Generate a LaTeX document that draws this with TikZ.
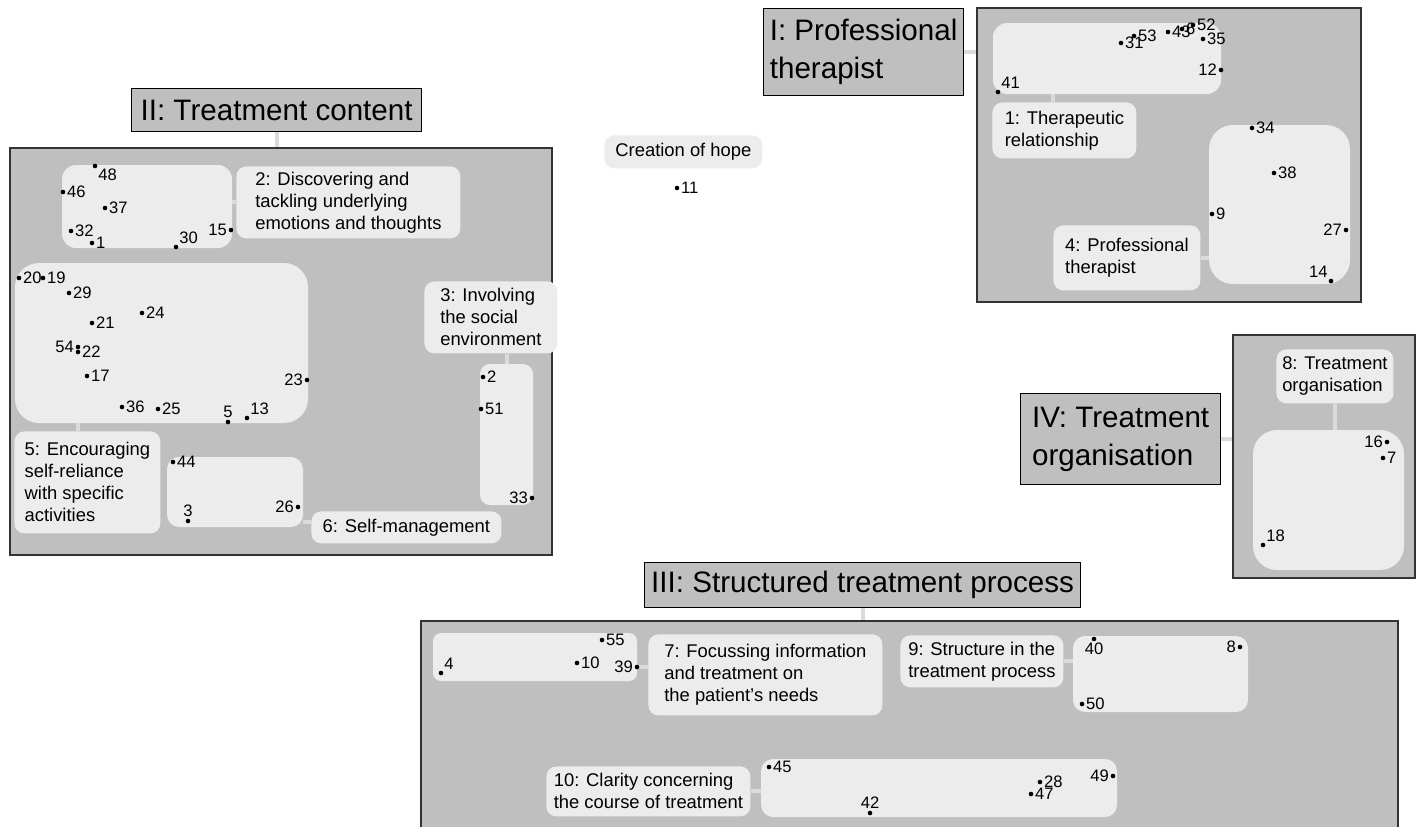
\documentclass[tikz,border=0pt]{standalone}
\usepackage{fontspec}
\setmainfont{Liberation Sans}
\usetikzlibrary{fit}
\definecolor{themegray}{gray}{0.75}
\definecolor{codegray}{gray}{0.925}
\definecolor{linkgray}{gray}{0.86}
\definecolor{edgegray}{gray}{0.2}

\begin{document}
\begin{tikzpicture}[x=0.5pt,y=-0.5pt,
    theme/.style={fill=themegray,draw=edgegray,line width=0.8pt,inner sep=0pt},
    title/.style={fill=themegray,draw=black,line width=0.6pt,anchor=north west,
      align=left,inner sep=0pt,font=\fontsize{14.8}{19}\selectfont},
    cluster/.style={fill=codegray,rounded corners=7pt,inner sep=0pt},
    code/.style={fill=codegray,rounded corners=5pt,anchor=north west,align=left,
      inner sep=0pt,font=\fontsize{9.2}{11}\selectfont},
    link/.style={draw=linkgray,line width=2pt},
    dot/.style={circle,fill=black,inner sep=0pt,minimum size=2.3pt},
    num/.style={font=\fontsize{8.3}{10}\selectfont,inner sep=0.5pt}]

    \useasboundingbox (0,0) rectangle (1417,826);
    \clip (0,0) rectangle (1417,826);
    \fill[white] (0,0) rectangle (1417,826);

    % II: Treatment content
    \begin{scope}
    \node[theme, fit={(10,148) (552,555)}] (m2) {};
    \node[title, minimum width=145pt, minimum height=21.5pt] (t2) at (131,88) {II: Treatment content};
    \draw[link] (t2.south) -- (t2.south |- m2.north);

    \node[cluster, fit={(62,165) (232,248)}] (c2) {};
    \node[cluster, rounded corners=12pt, fit={(15,263) (308,423)}] (c5) {};
    \node[cluster, rounded corners=6pt, fit={(167,457) (303,527)}] (c6) {};
    \node[cluster, rounded corners=5pt, fit={(480,364) (533,505)}] (c3) {};

    \node[code, minimum width=112pt, minimum height=36pt] (l2) at (236,166)
      {2: Discovering and\\tackling underlying\\emotions and thoughts};
    \node[code, minimum width=73pt, minimum height=51pt] (l5) at (14,431)
      {5: Encouraging\\self-reliance\\with specific\\activities};
    \node[code, minimum width=95pt, minimum height=16pt] (l6) at (311,511) {6: Self-management};
    \node[code, minimum width=66.5pt, minimum height=36pt] (l3) at (424,281)
      {3: Involving\\the social\\environment};

    \draw[link] (l2.west) -- (l2.west -| c2.east);
    \coordinate (k5) at (78,0);
    \draw[link] (c5.south -| k5) -- (l5.north -| k5);
    \coordinate (k6) at (0,522);
    \draw[link] (c6.east |- k6) -- (l6.west |- k6);
    \draw[link] (c3.north) -- (c3.north |- l3.south);

    \foreach \n/\x/\y/\p in {48/95/166/below right, 46/63/192/right, 37/105/208/right,
        32/71/231/right, 1/92/243/right, 30/176/247/above right, 15/231/230/left,
        20/19/278/right, 19/43/278/right, 29/69/293/right, 24/142/313/right,
        21/92/323/right, 54/78/347/left, 22/78/352/right, 17/87/376/right,
        23/307/380/left, 36/122/407/right, 25/158/409/right, 5/228/422/above,
        13/247/418/above right, 44/173/462/right, 3/188/521/above, 26/298/507/left,
        2/483/377/right, 51/481/409/right, 33/532/498/left}
      \node[dot, label={[num]\p:\n}] (p\n) at (\x,\y) {};
    \end{scope}

    % Creation of hope
    \node[code, minimum width=79pt, minimum height=16.5pt, align=center] (lh) at (604,135) {Creation of hope};
    \node[dot, label={[num]right:11}] (p11) at (677,188) {};

    % I: Professional therapist
    \begin{scope}
    \node[theme, fit={(977,8) (1361,302)}] (m1) {};
    \node[title, minimum width=100pt, minimum height=43.5pt] (t1) at (763,8) {I: Professional\\therapist};
    \draw[link] (t1.east) -- (t1.east -| m1.west);

    \node[cluster, fit={(993,23) (1221,94)}] (c1) {};
    \node[cluster, rounded corners=12pt, fit={(1209,125) (1350,284)}] (c4) {};
    \node[code, minimum width=72pt, minimum height=28pt] (l1) at (992,102) {1: Therapeutic\\relationship};
    \node[code, minimum width=73.5pt, minimum height=32.5pt] (l4) at (1053,225) {4: Professional\\therapist};

    \coordinate (k1) at (1053,0);
    \draw[link] (c1.south -| k1) -- (l1.north -| k1);
    \draw[link] (l4.east) -- (l4.east -| c4.west);

    \foreach \n/\x/\y/\p in {41/998/92/above right, 31/1121/43/right, 53/1134/36/right,
        43/1168/32/right, 6/1182/29/right, 52/1193/25/right, 35/1203/39/right,
        12/1221/70/left, 34/1252/128/right, 38/1274/173/right, 9/1212/214/right,
        27/1346/230/left, 14/1331/281/above left}
      \node[dot, label={[num]\p:\n}] (p\n) at (\x,\y) {};
    \end{scope}

    % IV: Treatment organisation
    \begin{scope}
    \node[theme, fit={(1233,335) (1415,578)}] (m4) {};
    \node[title, minimum width=100pt, minimum height=45.5pt] (t4) at (1020,393) {IV: Treatment\\organisation};
    \draw[link] (t4.east) -- (t4.east -| m4.west);

    \node[cluster, rounded corners=12pt, fit={(1253,430) (1404,570)}] (c8) {};
    \node[code, minimum width=58.5pt, minimum height=27pt] (l8) at (1276,349) {8: Treatment\\organisation};
    \draw[link] (l8.south) -- (l8.south |- c8.north);

    \foreach \n/\x/\y/\p in {16/1387/442/left, 7/1383/458/right, 18/1263/545/above right}
      \node[dot, label={[num]\p:\n}] (p\n) at (\x,\y) {};
    \end{scope}

    % III: Structured treatment process
    \begin{scope}
    \node[theme, fit={(421,621) (1398,860)}] (m3) {};
    \node[title, minimum width=218pt, minimum height=22.5pt] (t3) at (644,562) {III: Structured treatment process};
    \draw[link] (t3.south) -- (t3.south |- m3.north);

    \node[cluster, rounded corners=4pt, fit={(433,633) (637,681)}] (c7) {};
    \node[cluster, rounded corners=6pt, fit={(1073,636) (1248,712)}] (c9) {};
    \node[cluster, rounded corners=6pt, fit={(761,759) (1117,817)}] (c10) {};
    \node[code, minimum width=117pt, minimum height=40.5pt] (l7) at (648,634)
      {7: Focussing information\\and treatment on\\the patient’s needs};
    \node[code, minimum width=81.5pt, minimum height=26pt] (l9) at (900,635)
      {9: Structure in the\\treatment process};
    \node[code, minimum width=102pt, minimum height=25pt] (l10) at (546,766)
      {10: Clarity concerning\\the course of treatment};

    \coordinate (k7) at (0,667);
    \draw[link] (c7.east |- k7) -- (l7.west |- k7);
    \draw[link] (l9.east) -- (l9.east -| c9.west);
    \draw[link] (l10.east) -- (l10.east -| c10.west);

    \foreach \n/\x/\y/\p in {55/602/640/right, 4/441/673/above right, 10/577/663/right,
        39/637/667/left, 40/1094/639/below, 8/1240/647/left, 50/1082/704/right,
        45/769/767/right, 42/870/813/above, 28/1040/782/right, 47/1031/794/right,
        49/1113/776/left}
      \node[dot, label={[num]\p:\n}] (p\n) at (\x,\y) {};
    \end{scope}

\end{tikzpicture}
\end{document}
